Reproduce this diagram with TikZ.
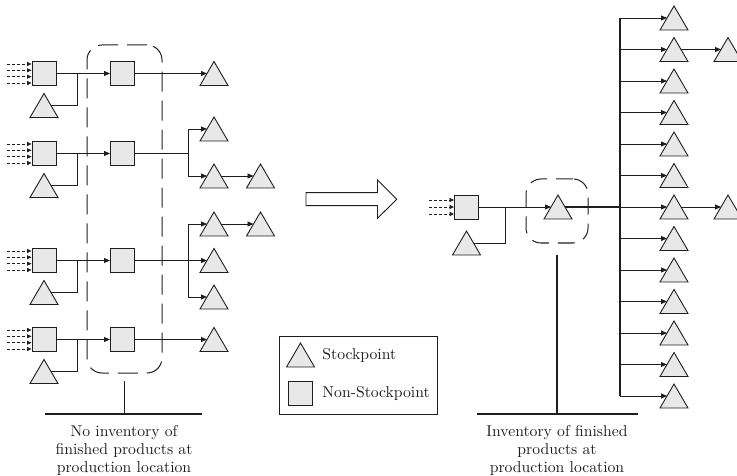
\documentclass[tikz,border=0pt]{standalone}
\usepackage{graphicx}
\usetikzlibrary{arrows.meta,calc}
\definecolor{boxfill}{HTML}{E8E8E8}
\definecolor{ink}{HTML}{1E1E1E}
% text is set at a 10pt design size and enlarged
\newcommand\lbltext[1]{\scalebox{1.57}{\fontsize{10}{11.5}\selectfont#1}}
\newcommand\lblstack[1]{\lbltext{\begin{tabular}{@{}c@{}}#1\end{tabular}}}
\begin{document}
\begin{tikzpicture}[x=1pt,y=-1pt,line width=0.9pt,color=ink,
  sq/.style={draw,fill=boxfill,minimum width=24pt,minimum height=24pt,inner sep=0pt},
  tri/.style={minimum width=30pt,minimum height=26pt,inner sep=0pt,outer xsep=-8pt,outer ysep=0pt,
    path picture={\draw[fill=boxfill,line width=0.9pt]
      ([shift={(1pt,1pt)}]path picture bounding box.south west) --
      ([shift={(0pt,-1pt)}]path picture bounding box.north) --
      ([shift={(-1pt,1pt)}]path picture bounding box.south east) -- cycle;}},
  flow/.style={-{Triangle[length=6pt,width=5pt]}},
  feed/.style={-{Triangle[length=4.5pt,width=4pt]},dashed,dash pattern=on 3pt off 2pt,line width=0.7pt},
  trunk/.style={line width=1.7pt},
  group/.style={draw,dashed,dash pattern=on 20pt off 9pt,rounded corners=15pt,line width=1pt},
  caption/.style={inner sep=0pt,anchor=north},
  keytext/.style={anchor=base west,inner sep=0pt}]
\useasboundingbox (0,0) rectangle (737,476);

% ---------- decentralised production lines ----------
\foreach \i/\y in {1/73.5,2/153.5,3/260.5,4/339.5}{
  \node[sq] (s\i) at (44,\y) {};
  \node[tri] (l\i) at (44,\y+32) {};
  \node[sq] (m\i) at (122.5,\y) {};
  \coordinate (j\i) at (77,\y);
  \foreach \d in {-9.5,-3.2,3.2,9.5}
    \draw[feed] ([xshift=-25pt,yshift=\d pt]s\i.west) -- ([yshift=\d pt]s\i.west);
  \draw[flow] (s\i.east) -- (m\i.west);
  \draw (l\i.east) -| (j\i);
}

% line 1
\node[tri] (o1) at (214,73.5) {};
\draw[flow] (m1.east) -- (o1.west);

% line 2
\node[tri] (o2a) at (214,129) {};
\node[tri] (o2b) at (214,176) {};
\node[tri] (o2c) at (260.5,176) {};
\coordinate (b2) at (188,153.5);
\draw (m2.east) -- (b2);
\draw[flow] (b2) |- (o2a.west);
\draw[flow] (b2) |- (o2b.west);
\draw[flow] (o2b.east) -- (o2c.west);

% line 3
\node[tri] (o3a) at (214,224) {};
\node[tri] (o3b) at (214,260.5) {};
\node[tri] (o3c) at (214,297) {};
\node[tri] (o3d) at (260.5,224) {};
\coordinate (b3) at (188,260.5);
\draw[trunk] (m3.east) -- (b3);
\draw[flow] (b3) |- (o3a.west);
\draw[flow] (b3) -- (o3b.west);
\draw[flow] (b3) |- (o3c.west);
\draw[flow] (o3a.east) -- (o3d.west);

% line 4
\node[tri] (o4) at (214,339.5) {};
\draw[flow] (m4.east) -- (o4.west);

% production location without finished-goods stock
\node[group,minimum width=75pt,minimum height=328pt] (g1) at (124.5,209) {};
\coordinate (c1l) at (45,414);
\coordinate (c1r) at (202,414);
\draw[line width=1.1pt] (c1l) -- (c1r);
\draw[line width=1.1pt] ([yshift=-7pt]g1.south) -- (g1.south |- c1l);
\node[caption] (cap1) at (124,423.5) {\lblstack{No inventory of\\finished products at\\production location}};

% ---------- transition arrow ----------
\draw[line width=0.9pt] (306,192.7) -- (377.5,192.7) -- (377.5,180) -- (396.7,199.3)
  -- (377.5,218.3) -- (377.5,205.7) -- (306,205.7) -- cycle;

% ---------- legend ----------
\node[draw,minimum width=158pt,minimum height=78pt,inner sep=0pt,line width=0.8pt] (leg) at (358,375) {};
\node[tri] (kt) at (300.5,355) {};
\node[sq] (ks) at (300.5,393) {};
\node[keytext] (ktl) at (322,359.5) {\lbltext{Stockpoint}};
\node[keytext] (ksl) at (322,397.5) {\lbltext{Non-Stockpoint}};

% ---------- central stockpoint ----------
\node[sq] (rs) at (466.5,207) {};
\node[tri] (rl) at (466.5,243) {};
\coordinate (rj) at (505,207);
\foreach \d in {-7,0,7}
  \draw[feed] ([xshift=-25pt,yshift=\d pt]rs.west) -- ([yshift=\d pt]rs.west);
\node[tri] (hub) at (558,207) {};
\draw[flow] (rs.east) -- (hub.west);
\draw (rl.east) -| (rj);

\coordinate (bt) at (620,18);
\coordinate (bb) at (620,396);
\draw[trunk] (bt) -- (bb);
\draw[trunk] (hub.east) -- (hub.east -| bt);
\foreach \k in {0,...,12}{
  \node[tri] (d\k) at (674,18+31.5*\k) {};
  \draw[flow] (bt |- d\k.west) -- (d\k.west);
}
\node[tri] (e1) at (728,49.5) {};
\node[tri] (e6) at (728,207) {};
\draw[flow] (d1.east) -- (e1.west);
\draw[flow] (d6.east) -- (e6.west);

% production location holding finished-goods stock
\node[group,dash pattern=on 17pt off 9pt,minimum width=62pt,minimum height=64pt] (g2) at (557,211) {};
\coordinate (c2l) at (477,414);
\coordinate (c2r) at (638,414);
\draw[line width=1.1pt] (c2l) -- (c2r);
\draw[line width=1.1pt] ([yshift=-11pt]g2.south) -- (g2.south |- c2l);
\node[caption] (cap2) at (557,423.5) {\lblstack{Inventory of finished\\products at\\production location}};
\end{tikzpicture}
\end{document}
